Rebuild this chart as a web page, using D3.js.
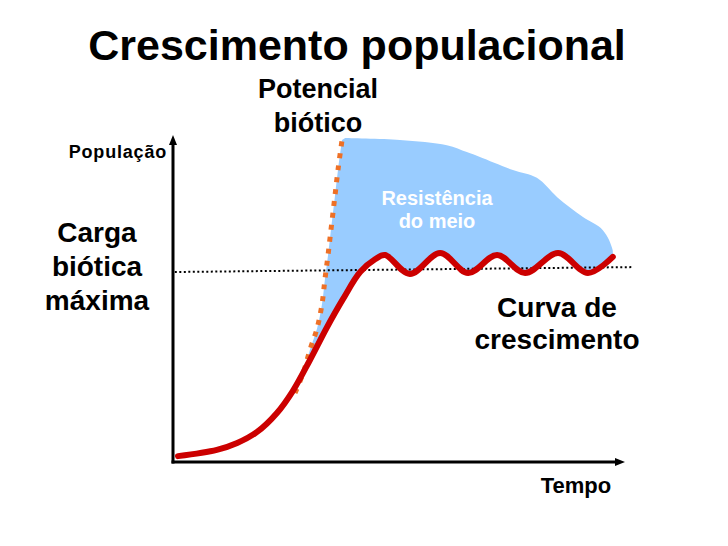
<!DOCTYPE html>
<html>
<head>
<meta charset="utf-8">
<script src="https://cdn.jsdelivr.net/npm/d3@7"></script>
<style>
  html, body { margin: 0; padding: 0; background: #fff; }
  text { font-family: "Liberation Sans", Arial, Helvetica, sans-serif; font-weight: bold; }
</style>
</head>
<body>
<svg id="chart" width="728" height="546"></svg>
<script>
// ---- Data (time 0-100, population 0-100) ----
const growthTime = [1.1, 9.7, 14.2, 18.6, 23.0, 26.5, 30.3, 34.1, 37.6, 41.4, 44.7, 46.9, 52.4, 59.1, 65.3, 71.7, 77.9, 85.2, 91.8, 97.3];
const growthPop  = [1.8, 3.7, 5.8, 9.2, 15.0, 21.7, 31.2, 41.3, 49.8, 58.1, 62.0, 63.3, 57.5, 63.9, 57.8, 63.3, 57.8, 63.9, 57.8, 62.7];

const bioticTime = [27.0, 28.8, 30.3, 31.9, 33.0, 33.6, 34.3, 35.2, 35.8, 36.5, 37.4];
const bioticPop  = [21.1, 27.2, 34.3, 41.0, 48.6, 55.7, 63.3, 74.0, 81.0, 89.3, 98.5];

const resistTopTime = [38.1, 50.2, 60.6, 65.0, 67.9, 75.2, 80.5, 85.0, 90.7, 95.1, 97.3, 97.6];
const resistTopPop  = [99.1, 98.5, 96.9, 94.8, 93.3, 89.3, 86.9, 81.0, 74.9, 70.9, 64.8, 60.0];

const capacityTime = [0.4, 101.5];
const capacityPop  = [58.1, 59.6];

const titleText = "Crescimento populacional";
const yAxisLabel = "População";
const xAxisLabel = "Tempo";
const bioticLabel = ["Potencial", "biótico"];
const capacityLabel = ["Carga", "biótica", "máxima"];
const resistLabel = ["Resistência", "do meio"];
const curveLabel = ["Curva de", "crescimento"];

// ---- Setup ----
const svg = d3.select("#chart");
const x = d3.scaleLinear().domain([0, 100]).range([173, 625]);
const y = d3.scaleLinear().domain([0, 100]).range([462, 135]);

const growth = growthTime.map((t, i) => [t, growthPop[i]]);
const biotic = bioticTime.map((t, i) => [t, bioticPop[i]]);
const resistTop = resistTopTime.map((t, i) => [t, resistTopPop[i]]);
const capacity = capacityTime.map((t, i) => [t, capacityPop[i]]);

const defs = svg.append("defs");
["arrowX", "arrowY"].forEach(id => {
  defs.append("marker")
    .attr("id", id)
    .attr("markerUnits", "userSpaceOnUse")
    .attr("viewBox", "0 0 10 10")
    .attr("refX", 2).attr("refY", 5)
    .attr("markerWidth", 10).attr("markerHeight", 10)
    .attr("orient", "auto")
    .append("path")
    .attr("d", "M0,1 L10,5 L0,9 Z")
    .attr("fill", "#000");
});

const growthCurve = d3.curveCatmullRom.alpha(0.5);

// clip: region above the growth curve
const above = d3.area()
  .x(d => x(d[0]))
  .y0(d => y(d[1]))
  .y1(() => y(110))
  .curve(growthCurve);
defs.append("clipPath").attr("id", "aboveGrowth")
  .append("path").attr("d", above(growth));

// Blue "resistência do meio" region
const lineGrowth = d3.line().x(d => x(d[0])).y(d => y(d[1])).curve(growthCurve);
const lineCat = d3.line().x(d => x(d[0])).y(d => y(d[1])).curve(d3.curveCatmullRom);
const lineBiotic = d3.line().x(d => x(d[0])).y(d => y(d[1])).curve(d3.curveCatmullRom);
const lastTop = resistTop[resistTop.length - 1];
const blueD = lineBiotic(biotic)
  + lineCat(resistTop).replace(/^M/, "L")
  + "L" + x(lastTop[0]) + "," + y(0)
  + "L" + x(biotic[0][0] - 3) + "," + y(0) + "Z";
svg.append("path")
  .attr("d", blueD)
  .attr("fill", "#99CCFF")
  .attr("clip-path", "url(#aboveGrowth)");

// Carrying capacity dotted line
svg.append("path")
  .attr("d", d3.line().x(d => x(d[0])).y(d => y(d[1]))(capacity))
  .attr("fill", "none")
  .attr("stroke", "#000")
  .attr("stroke-width", 2)
  .attr("stroke-dasharray", "2,2.5");

// Biotic potential (orange dotted)
svg.append("path")
  .attr("d", lineBiotic(biotic))
  .attr("fill", "none")
  .attr("stroke", "#EE7026")
  .attr("stroke-width", 5)
  .attr("stroke-dasharray", "5,7");

// Growth curve
svg.append("path")
  .attr("d", lineGrowth(growth))
  .attr("fill", "none")
  .attr("stroke", "#CC0000")
  .attr("stroke-width", 6)
  .attr("stroke-linecap", "round")
  .attr("stroke-linejoin", "round");

// Axes
const xAxis = svg.append("g")
  .attr("transform", `translate(0,${y(0)})`)
  .call(d3.axisBottom(x).ticks(0).tickSizeOuter(0));
const yAxis = svg.append("g")
  .attr("transform", `translate(${x(0)},0)`)
  .call(d3.axisLeft(y).ticks(0).tickSizeOuter(0));
xAxis.select(".domain").attr("stroke", "#000").attr("stroke-width", 3)
  .attr("d", `M${x(0) - 1.5},0H${x(100) - 8}`).attr("marker-end", "url(#arrowX)");
yAxis.select(".domain").attr("stroke", "#000").attr("stroke-width", 3)
  .attr("d", `M0,${y(0) + 1.5}V${y(100) + 8}`).attr("marker-end", "url(#arrowY)");
xAxis.selectAll(".tick").remove();
yAxis.selectAll(".tick").remove();

// Texts
function lines(arr, cx, y0, dy, size, fill) {
  arr.forEach((s, i) => {
    svg.append("text")
      .attr("x", cx).attr("y", y0 + i * dy)
      .attr("text-anchor", "middle")
      .attr("font-size", size)
      .attr("fill", fill || "#000")
      .text(s);
  });
}
svg.append("text")
  .attr("x", 357).attr("y", 60)
  .attr("text-anchor", "middle")
  .attr("font-size", 43)
  .text(titleText);

lines(bioticLabel, 318, 98, 34, 27);
lines(capacityLabel, 97, 242, 34, 28);
lines(resistLabel, 437, 205, 23, 20, "#fff");
lines(curveLabel, 557, 317, 31.5, 28);

svg.append("text")
  .attr("x", 167).attr("y", 158)
  .attr("text-anchor", "end")
  .attr("font-size", 18)
  .attr("letter-spacing", 0.8)
  .text(yAxisLabel);

svg.append("text")
  .attr("x", 576).attr("y", 493)
  .attr("text-anchor", "middle")
  .attr("font-size", 22)
  .text(xAxisLabel);
</script>
</body>
</html>
